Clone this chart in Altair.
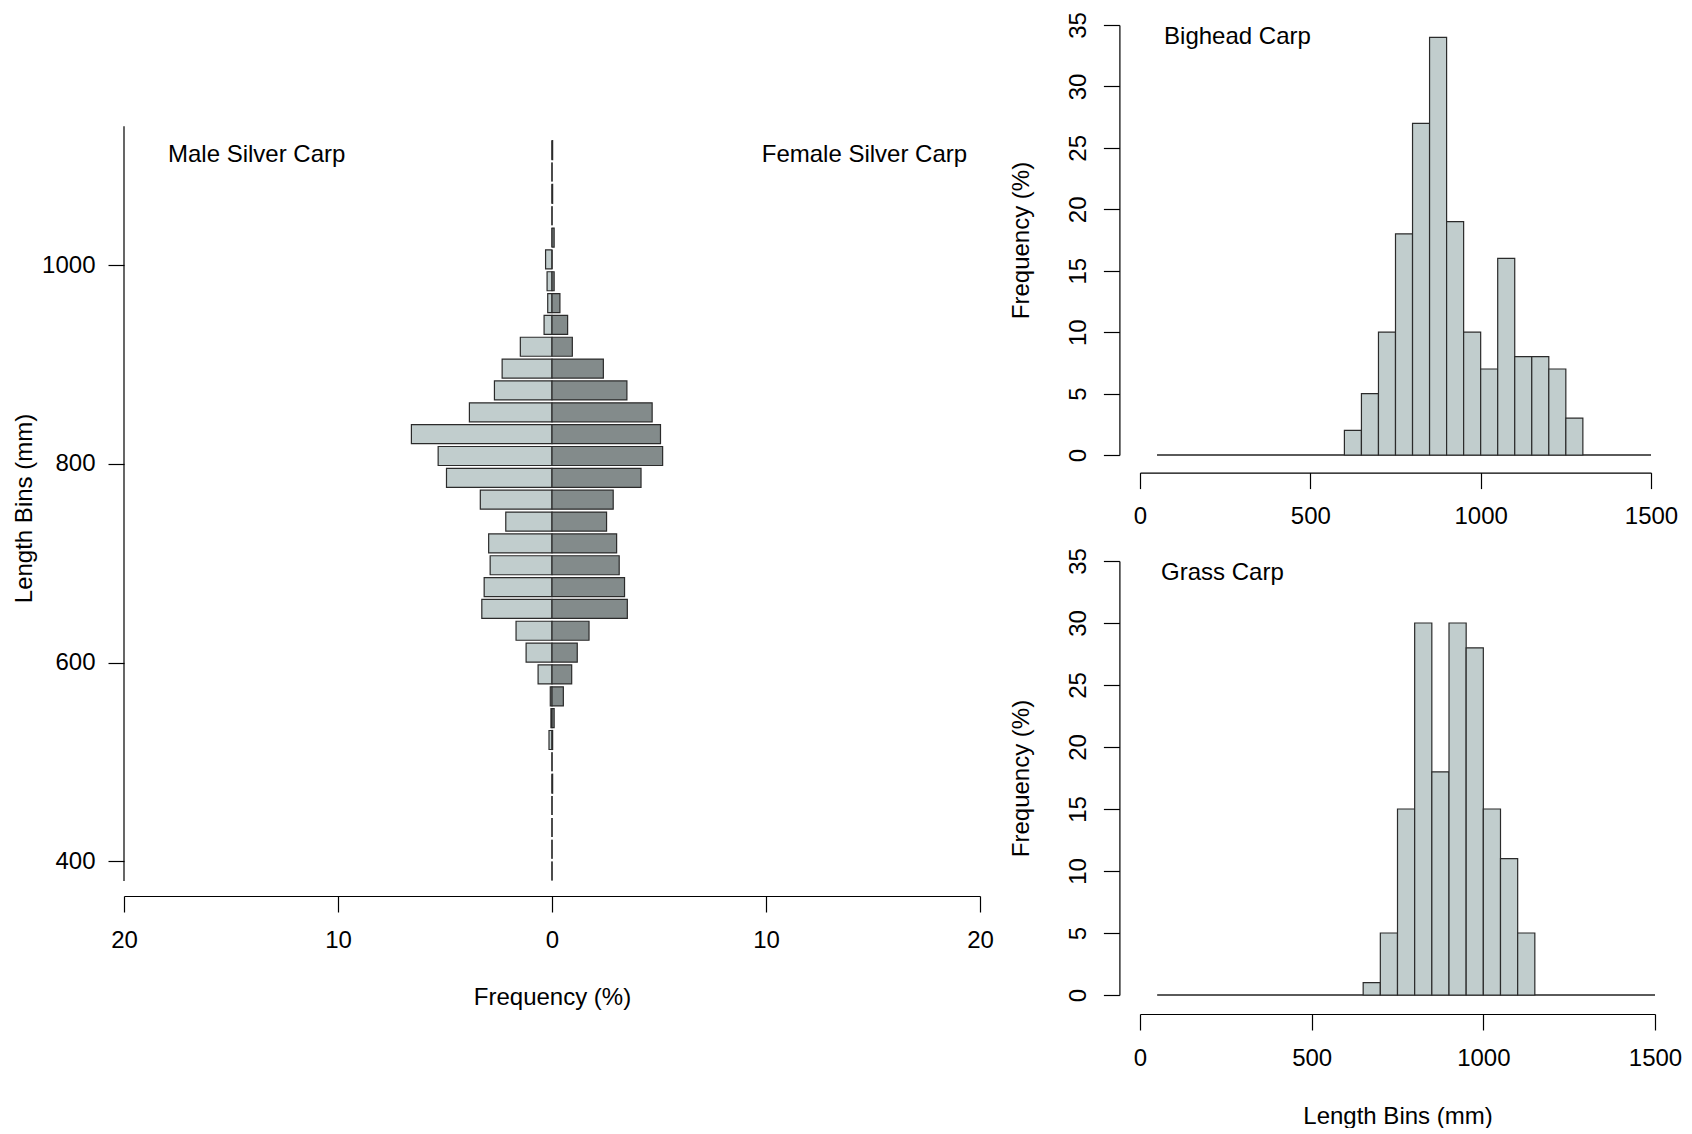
import altair as alt
import pandas as pd

# ---------------- data ----------------
length_bins = [1116, 1094, 1072, 1050, 1028, 1006, 984, 962, 940, 918, 896, 874,
               852, 830, 808, 786, 764, 742, 720, 698, 676, 654, 632, 610, 588,
               566, 544, 522, 500, 478, 456, 434, 412, 390]
male_pct = [0, 0, 0, 0, 0, 0.30, 0.23, 0.20, 0.37, 1.48, 2.33, 2.69,
            3.86, 6.57, 5.32, 4.93, 3.35, 2.16, 2.96, 2.89, 3.17, 3.28, 1.68, 1.21, 0.65,
            0.08, 0.05, 0.14, 0, 0, 0, 0, 0, 0]
female_pct = [0.03, 0, 0.03, 0, 0.10, 0, 0.10, 0.37, 0.73, 0.95, 2.40, 3.50,
              4.68, 5.07, 5.17, 4.16, 2.86, 2.55, 3.02, 3.14, 3.39, 3.52, 1.73, 1.18, 0.92,
              0.53, 0.10, 0.03, 0, 0.03, 0, 0, 0, 0]

bighead_lo = [600, 650, 700, 750, 800, 850, 900, 950, 1000, 1050, 1100, 1150, 1200, 1250]
bighead_freq = [2, 5, 10, 18, 27, 34, 19, 10, 7, 16, 8, 8, 7, 3]

grass_lo = [650, 700, 750, 800, 850, 900, 950, 1000, 1050, 1100]
grass_freq = [1, 5, 15, 30, 18, 30, 28, 15, 11, 5]

bin_width = 50

FONT = "Liberation Sans"
FS = 24
LIGHT = "#C1CDCD"
DARK = "#838B8B"
EDGE = "#2b2b2b"

# ---------------- left: silver carp pyramid ----------------
silver = pd.DataFrame({"length": length_bins, "male": male_pct, "female": female_pct})
silver["neg"] = -silver["male"]
silver["zero"] = 0.0

y_left = alt.Scale(domain=[380, 1237], nice=False, zero=False)
x_left = alt.Scale(domain=[-20, 20], nice=False)

base_l = alt.Chart(silver)

male_bars = base_l.mark_bar(size=19, fill=LIGHT, stroke=EDGE, strokeWidth=1.2, orient="horizontal").encode(
    y=alt.Y("length:Q", scale=y_left, axis=alt.Axis(
        values=[400, 600, 800, 1000], format="d", domain=False, grid=False, tickSize=16,
        labelPadding=13, labelBaseline="middle", title="Length Bins (mm)", titleX=-100,
        titleY=483, titleAngle=270, titleBaseline="middle", titleAlign="center")),
    x=alt.X("neg:Q", scale=x_left, axis=alt.Axis(
        values=[-20, -10, 0, 10, 20], labelExpr="abs(datum.value)", offset=10, grid=False,
        tickSize=16, labelPadding=28, labelBaseline="middle", title="Frequency (%)",
        titleX=428, titleY=101, titleBaseline="middle", titleAlign="center")),
    x2="zero:Q",
)

female_bars = base_l.mark_bar(size=19, fill=DARK, stroke=EDGE, strokeWidth=1.2, orient="horizontal").encode(
    y=alt.Y("length:Q", scale=y_left),
    x=alt.X("zero:Q", scale=x_left),
    x2="female:Q",
)

axis_df = pd.DataFrame({"x": [-20], "y": [380], "y2": [1140]})
yaxis_line = alt.Chart(axis_df).mark_rule(color="black", strokeWidth=1.2).encode(
    x="x:Q", y="y:Q", y2="y2:Q"
)

sex_labels = pd.DataFrame({"lab": ["Male Silver Carp", "Female Silver Carp"],
                           "x": [-13.8, 14.6], "y": [1111, 1111]})
sex_text = alt.Chart(sex_labels).mark_text(font=FONT, fontSize=FS, color="black", align="center",
                                           baseline="middle").encode(
    x=alt.X("x:Q"), y=alt.Y("y:Q"), text="lab:N"
)

left = alt.layer(male_bars, female_bars, yaxis_line, sex_text).properties(width=856, height=861)


# ---------------- right: histograms ----------------
def hist_panel(lo, freq, name, label_x, width, height, xoff, show_title):
    df = pd.DataFrame({"lo": lo, "freq": freq})
    df["hi"] = df["lo"] + bin_width
    df["zero"] = 0
    xs = alt.Scale(domain=[0, 1500], nice=False)
    ys = alt.Scale(domain=[0, 35], nice=False)
    xaxis = alt.Axis(values=[0, 500, 1000, 1500], format="d", offset=xoff, grid=False, tickSize=16,
                     labelPadding=28, labelBaseline="middle",
                     title="Length Bins (mm)" if show_title else None,
                     titleX=width / 2, titleY=102, titleBaseline="middle", titleAlign="center")
    yaxis = alt.Axis(values=[0, 5, 10, 15, 20, 25, 30, 35], offset=20.6, grid=False, tickSize=16,
                     labelPadding=25, labelAngle=270, labelAlign="center", labelBaseline="middle",
                     title="Frequency (%)", titleX=-97.5, titleY=height / 2, titleAngle=270,
                     titleBaseline="middle", titleAlign="center")
    bars = alt.Chart(df).mark_rect(fill=LIGHT, stroke=EDGE, strokeWidth=1.2).encode(
        x=alt.X("lo:Q", scale=xs, axis=xaxis),
        x2="hi:Q",
        y=alt.Y("freq:Q", scale=ys, axis=yaxis),
        y2="zero:Q",
    )
    base_df = pd.DataFrame({"x": [50], "x2": [1500], "y": [0]})
    base = alt.Chart(base_df).mark_rule(color="#5a5a5a", strokeWidth=2).encode(
        x=alt.X("x:Q", scale=xs), x2="x2:Q", y=alt.Y("y:Q", scale=ys)
    )
    lab = alt.Chart(pd.DataFrame({"t": [name], "x": [label_x], "y": [34]})).mark_text(
        font=FONT, fontSize=FS, color="black", align="center", baseline="middle").encode(
        x="x:Q", y="y:Q", text="t:N")
    return alt.layer(base, bars, lab).properties(width=width, height=height)


bighead = hist_panel(bighead_lo, bighead_freq, "Bighead Carp", 286, 511, 430, 17.6, False)
grass = hist_panel(grass_lo, grass_freq, "Grass Carp", 240, 515, 434, 19, True)

right = alt.vconcat(bighead, grass, spacing=18)

chart = alt.hconcat(left, right, spacing=15).properties(
    padding={"left": 4, "top": 3, "right": 0, "bottom": 0}
).configure(
    font=FONT
).configure_axis(
    labelFont=FONT, labelFontSize=FS, labelColor="black", titleFont=FONT, titleFontSize=FS,
    titleFontWeight="normal", titleColor="black", domainColor="black", tickColor="black",
    domainWidth=1.2, tickWidth=1.2, labelOverlap=False, labelFlush=False
).configure_view(stroke=None)

chart.save("out.html", embed_options={"renderer": "svg", "actions": False})
